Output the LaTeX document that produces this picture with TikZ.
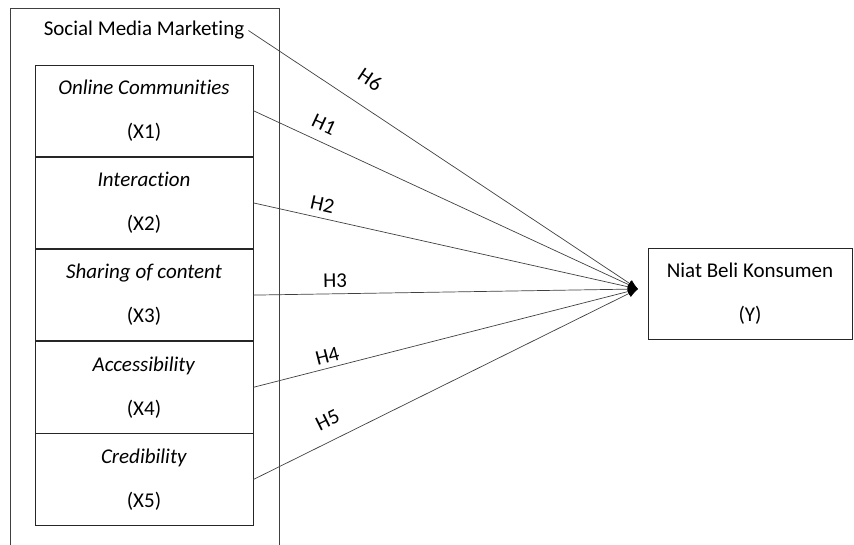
\documentclass[tikz,border=0pt]{standalone}
\usepackage{fontspec}
\setmainfont{Carlito}[Ligatures=NoCommon]
\usetikzlibrary{positioning,arrows.meta}

\tikzset{
  varbox/.style={draw=black!85, line width=0.8pt, minimum width=218pt, minimum height=91.4pt,
    inner sep=0pt, align=center, font=\fontsize{21}{44}\selectfont},
  hyp/.style={draw=black!75, line width=0.7pt, -{Latex[length=10pt,width=8pt,black]}},
  hlab/.style={sloped, inner sep=2pt, font=\fontsize{21}{24}\selectfont}
}

\begin{document}
\begin{tikzpicture}[x=1pt,y=-1pt]
\useasboundingbox (0,0) rectangle (854,545);
\draw[black!75, line width=0.8pt] (10,545) -- (10,8) -- (279,8) -- (279,545);
\node[anchor=base, inner sep=4pt, font=\fontsize{21}{24}\selectfont] (smm) at (144,36) {Social Media Marketing};

\node[varbox] (x1) at (144,110.7) {\textit{Online Communities}\\(X1)};
\node[varbox, below=0pt of x1] (x2) {\textit{Interaction}\\(X2)};
\node[varbox, below=0pt of x2] (x3) {\textit{Sharing of content}\\(X3)};
\node[varbox, below=0pt of x3] (x4) {\textit{Accessibility}\\(X4)};
\node[varbox, below=0pt of x4] (x5) {\textit{Credibility}\\(X5)};

\node[varbox, minimum width=204pt, minimum height=91pt] (y) at (750,293.5) {Niat Beli Konsumen\\(Y)};
\coordinate (tip) at (638,289);

\draw[hyp] (smm.east) -- node[hlab, above=17pt, pos=0.275] {H6} (tip);
\draw[hyp] (x1.east) -- node[hlab, above=8pt, pos=0.165] {H1} (tip);
\draw[hyp] (x2.east) -- node[hlab, above=4pt, pos=0.172] {H2} (tip);
\draw[hyp] (x3.east) -- node[hlab, above=4pt, pos=0.213] {H3} (tip);
\draw[hyp] (x4.east) -- node[hlab, above=3pt, pos=0.2] {H4} (tip);
\draw[hyp] (x5.east) -- node[hlab, above=11pt, pos=0.216] {H5} (tip);
\end{tikzpicture}
\end{document}
